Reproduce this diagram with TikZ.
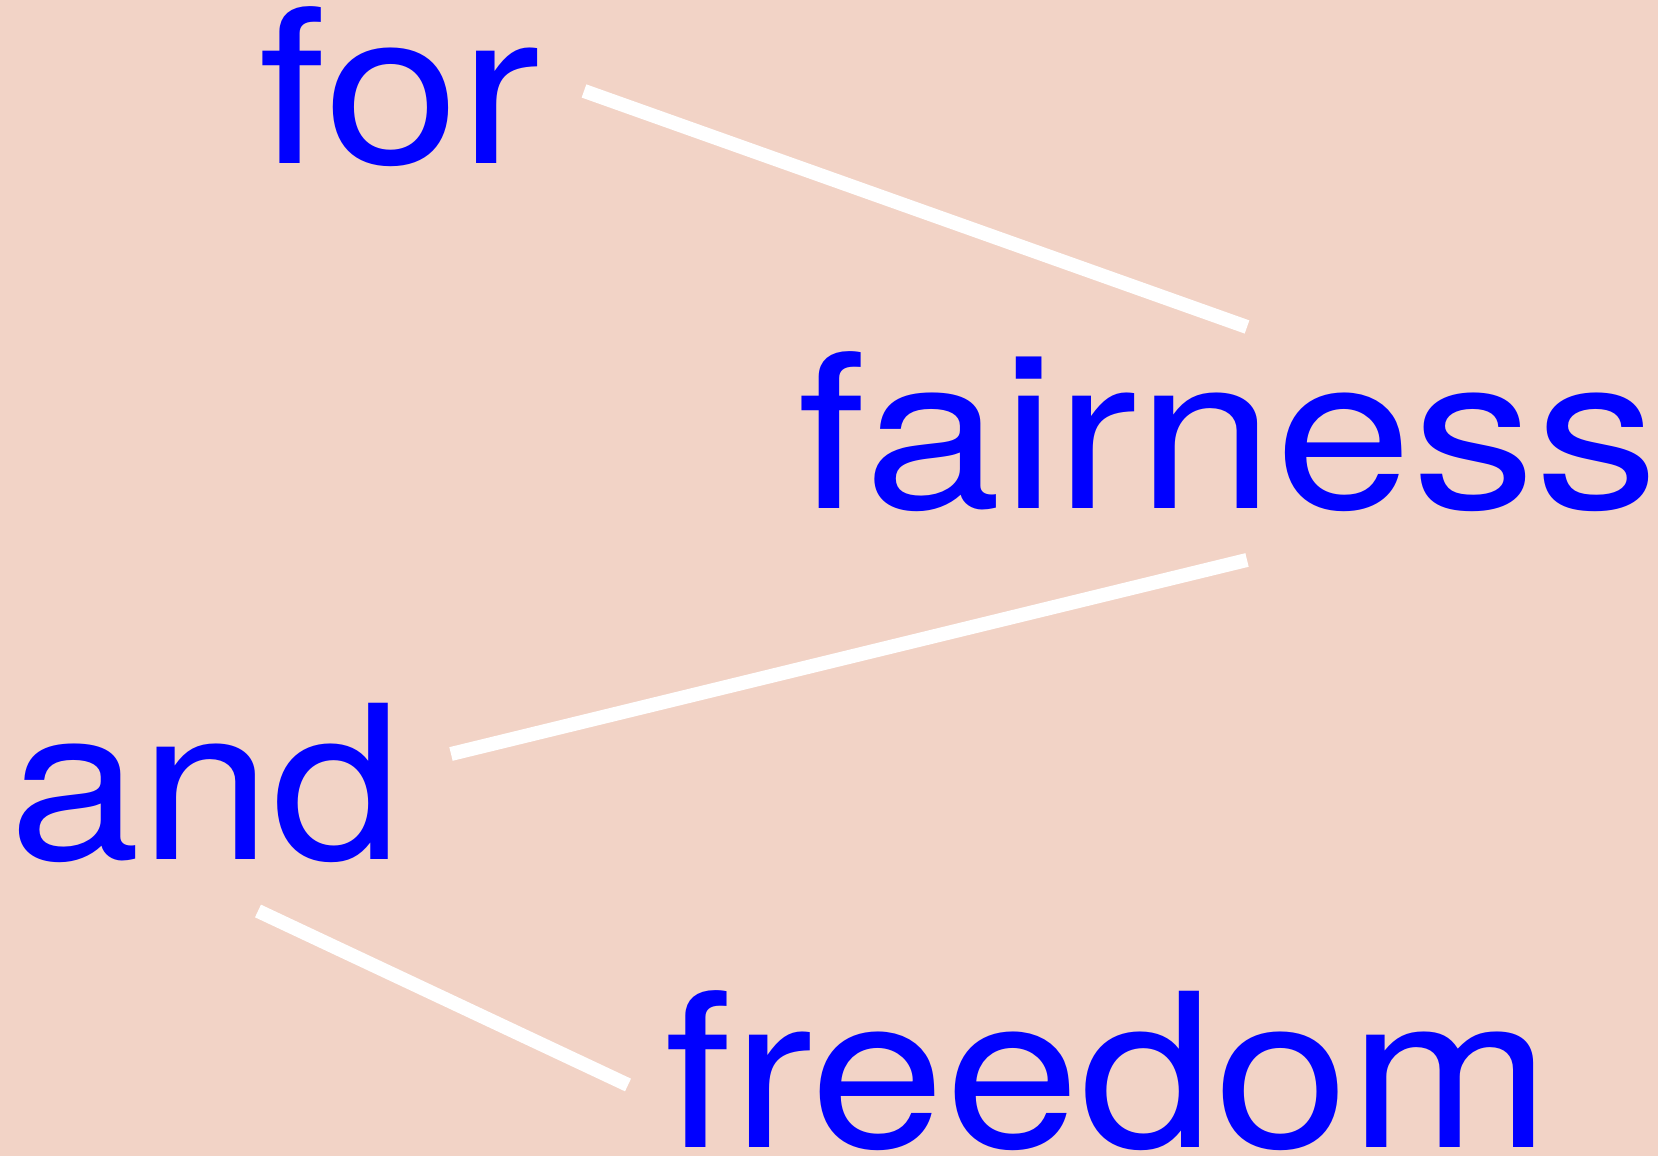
\documentclass[tikz,border=0pt]{standalone}
\usepackage{fontspec}
\setmainfont{TeX Gyre Heros}
\definecolor{peach}{RGB}{242,211,198}
\begin{document}
\begin{tikzpicture}[
  word/.style={text=blue,inner sep=0pt,anchor=base west,font=\fontsize{61}{70}\selectfont},
  link/.style={draw=white,line width=0.14cm,line cap=butt}]
\fill[peach] (0,0) rectangle (16.58,11.56);
\useasboundingbox (0,0) rectangle (16.58,11.56);
\node[word] (for) at (2.58,9.92) {\scalebox{1.135}[1]{for}};
\node[word] (fairness) at (7.97,6.47) {\scalebox{1.15}[1]{fairness}};
\node[word] (and) at (0.085,2.96) {\scalebox{1.10}[1]{and}};
\node[word] (freedom) at (6.64,0.08) {\scalebox{1.13}[1]{freedom}};
% line ends
\coordinate (for-out) at (5.84,10.65);
\coordinate (fairness-in) at (12.47,8.29);
\coordinate (fairness-out) at (12.47,5.96);
\coordinate (and-in) at (4.51,4.02);
\coordinate (and-out) at (2.58,2.45);
\coordinate (freedom-in) at (6.28,0.71);
\draw[link] (for-out) -- (fairness-in);
\draw[link] (and-in) -- (fairness-out);
\draw[link] (and-out) -- (freedom-in);
\end{tikzpicture}
\end{document}
